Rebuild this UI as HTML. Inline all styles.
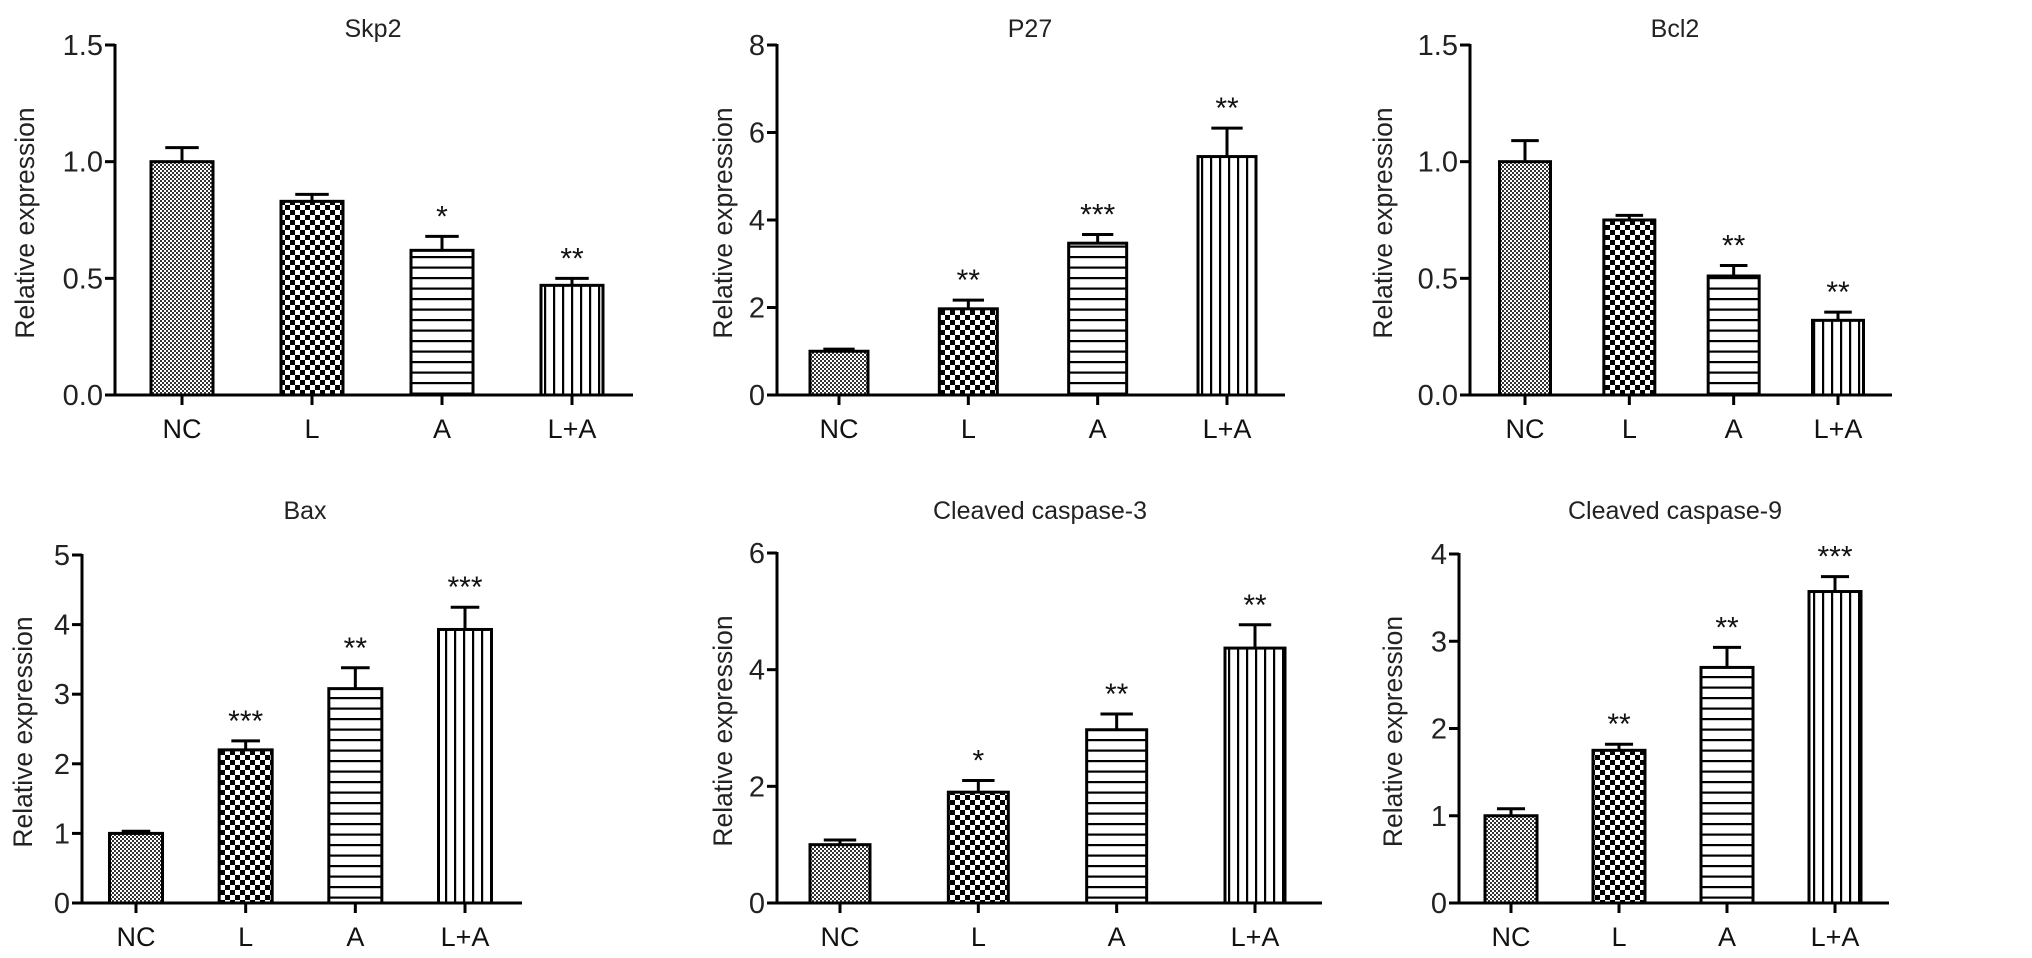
<!DOCTYPE html>
<html><head><meta charset="utf-8">
<style>
html,body{margin:0;padding:0;background:#fff;}
svg{display:block;font-family:"Liberation Sans",Arial,sans-serif;}
</style></head>
<body>
<svg id="fig" width="2032" height="958" viewBox="0 0 2032 958" xmlns="http://www.w3.org/2000/svg">
<defs>
<pattern id="pNC" width="4" height="4" patternUnits="userSpaceOnUse">
<rect width="4" height="4" fill="#fff"/><rect width="2" height="2" fill="#333"/><rect x="2" y="2" width="2" height="2" fill="#333"/>
</pattern>
<pattern id="pL" width="10" height="10" patternUnits="userSpaceOnUse">
<rect width="10" height="10" fill="#fff"/><rect width="5" height="5" fill="#000"/><rect x="5" y="5" width="5" height="5" fill="#000"/>
</pattern>
<pattern id="pA" width="10" height="10.5" patternUnits="userSpaceOnUse">
<rect width="10" height="10.5" fill="#fff"/><rect y="4" width="10" height="2.2" fill="#000"/>
</pattern>
<pattern id="pLA" width="9" height="10" patternUnits="userSpaceOnUse">
<rect width="9" height="10" fill="#fff"/><rect x="4" width="2.2" height="10" fill="#000"/>
</pattern>
</defs>
</svg>
<script>
const categories = ["NC","L","A","L+A"];
const titles = ["Skp2","P27","Bcl2","Bax","Cleaved caspase-3","Cleaved caspase-9"];
const skp2Values = [1.0,0.83,0.62,0.47];
const skp2Errors = [0.06,0.03,0.06,0.03];
const skp2Stars = ["","","*","**"];
const p27Values = [1.0,1.97,3.47,5.45];
const p27Errors = [0.05,0.2,0.2,0.65];
const p27Stars = ["","**","***","**"];
const bcl2Values = [1.0,0.75,0.51,0.32];
const bcl2Errors = [0.09,0.02,0.045,0.035];
const bcl2Stars = ["","","**","**"];
const baxValues = [1.0,2.2,3.08,3.93];
const baxErrors = [0.03,0.13,0.3,0.32];
const baxStars = ["","***","**","***"];
const cc3Values = [1.0,1.9,2.97,4.37];
const cc3Errors = [0.08,0.2,0.27,0.4];
const cc3Stars = ["","*","**","**"];
const cc9Values = [1.0,1.75,2.7,3.57];
const cc9Errors = [0.08,0.07,0.23,0.17];
const cc9Stars = ["","**","**","***"];
const skp2Ticks = ["0.0","0.5","1.0","1.5"];
const p27Ticks = ["0","2","4","6","8"];
const bcl2Ticks = ["0.0","0.5","1.0","1.5"];
const baxTicks = ["0","1","2","3","4","5"];
const cc3Ticks = ["0","2","4","6"];
const cc9Ticks = ["0","1","2","3","4"];

const NS="http://www.w3.org/2000/svg";
const svg=document.getElementById('fig');
const fills=["url(#pNC)","url(#pL)","url(#pA)","url(#pLA)"];
function mk(tag,attrs,parent){const e=document.createElementNS(NS,tag);for(const k in attrs)e.setAttribute(k,attrs[k]);(parent||svg).appendChild(e);return e;}

const panels=[
 {title:titles[0],vals:skp2Values,errs:skp2Errors,stars:skp2Stars,ticks:skp2Ticks,ax:115,first:182,last:572,bw:62,xend:633,y0:395,yt:45,tx:373,ty:37,lx:32},
 {title:titles[1],vals:p27Values,errs:p27Errors,stars:p27Stars,ticks:p27Ticks,ax:777,first:839,last:1227,bw:58,xend:1285,y0:395,yt:45,tx:1030,ty:37,lx:730},
 {title:titles[2],vals:bcl2Values,errs:bcl2Errors,stars:bcl2Stars,ticks:bcl2Ticks,ax:1470,first:1525,last:1838,bw:51,xend:1892,y0:395,yt:45,tx:1675,ty:37,lx:1390},
 {title:titles[3],vals:baxValues,errs:baxErrors,stars:baxStars,ticks:baxTicks,ax:82,first:136,last:465,bw:53,xend:522,y0:903,yt:555,tx:305,ty:519,lx:30},
 {title:titles[4],vals:cc3Values,errs:cc3Errors,stars:cc3Stars,ticks:cc3Ticks,ax:777,first:840,last:1255,bw:60,xend:1322,y0:903,yt:553,tx:1040,ty:519,lx:730},
 {title:titles[5],vals:cc9Values,errs:cc9Errors,stars:cc9Stars,ticks:cc9Ticks,ax:1459,first:1511,last:1835,bw:52,xend:1889,y0:903,yt:554,tx:1675,ty:519,lx:1400}
];

panels.forEach((p,pi)=>{
 const g=mk('g',{});
 
 
 const maxV=parseFloat(p.ticks[p.ticks.length-1]);
 const y=v=>p.y0-(v/maxV)*(p.y0-p.yt);
 const step=(p.last-p.first)/(categories.length-1);
 const x=i=>p.first+i*step;
 const t=mk('text',{x:p.tx,y:p.ty,'text-anchor':'middle','font-size':25,fill:'#222'},g);
 t.textContent=p.title;
 
 
 const yl=mk('text',{x:0,y:0,'text-anchor':'middle','font-size':26.5,fill:'#222',transform:`translate(${p.lx+2},${(p.y0+p.yt)/2+3}) rotate(-90)`},g);
 yl.textContent='Relative expression';
 
 
 p.vals.forEach((v,i)=>{
  const cx=x(i), top=y(v), et=y(v+p.errs[i]);
  const eb=mk('line',{x1:cx,x2:cx,y1:top,y2:et,stroke:'#000','stroke-width':3},g);
  
  
  const cap=mk('line',{x1:cx-p.bw*0.27,x2:cx+p.bw*0.27,y1:et,y2:et,stroke:'#000','stroke-width':3},g);
  
  
  const r=mk('rect',{x:cx-p.bw/2,y:top,width:p.bw,height:p.y0-top,fill:fills[i],stroke:'#000','stroke-width':3},g);
  
  
  if(p.stars[i]){
   const s=mk('text',{x:cx,y:et-10,'text-anchor':'middle','font-size':30,fill:'#111'},g);
   s.textContent=p.stars[i];
   
   
  }
  const tk=mk('line',{x1:cx,x2:cx,y1:p.y0,y2:p.y0+10,stroke:'#000','stroke-width':3},g);
  
  
  const xl=mk('text',{x:cx,y:p.y0+43,'text-anchor':'middle','font-size':27,fill:'#111'},g);
  xl.textContent=categories[i];
  
  
 });
 const ya=mk('line',{x1:p.ax,x2:p.ax,y1:p.yt-1,y2:p.y0+1.5,stroke:'#000','stroke-width':3},g);
 
 
 const xa=mk('line',{x1:p.ax-10,x2:p.xend,y1:p.y0,y2:p.y0,stroke:'#000','stroke-width':3},g);
 
 
 p.ticks.forEach(tv=>{
  const yy=y(parseFloat(tv));
  const tl=mk('line',{x1:p.ax-10,x2:p.ax,y1:yy,y2:yy,stroke:'#000','stroke-width':3},g);
  
  
  const tt=mk('text',{x:p.ax-12,y:yy+10,'text-anchor':'end','font-size':29,fill:'#222'},g);
  tt.textContent=tv;
  
  
 });
});
</script>
</body></html>
